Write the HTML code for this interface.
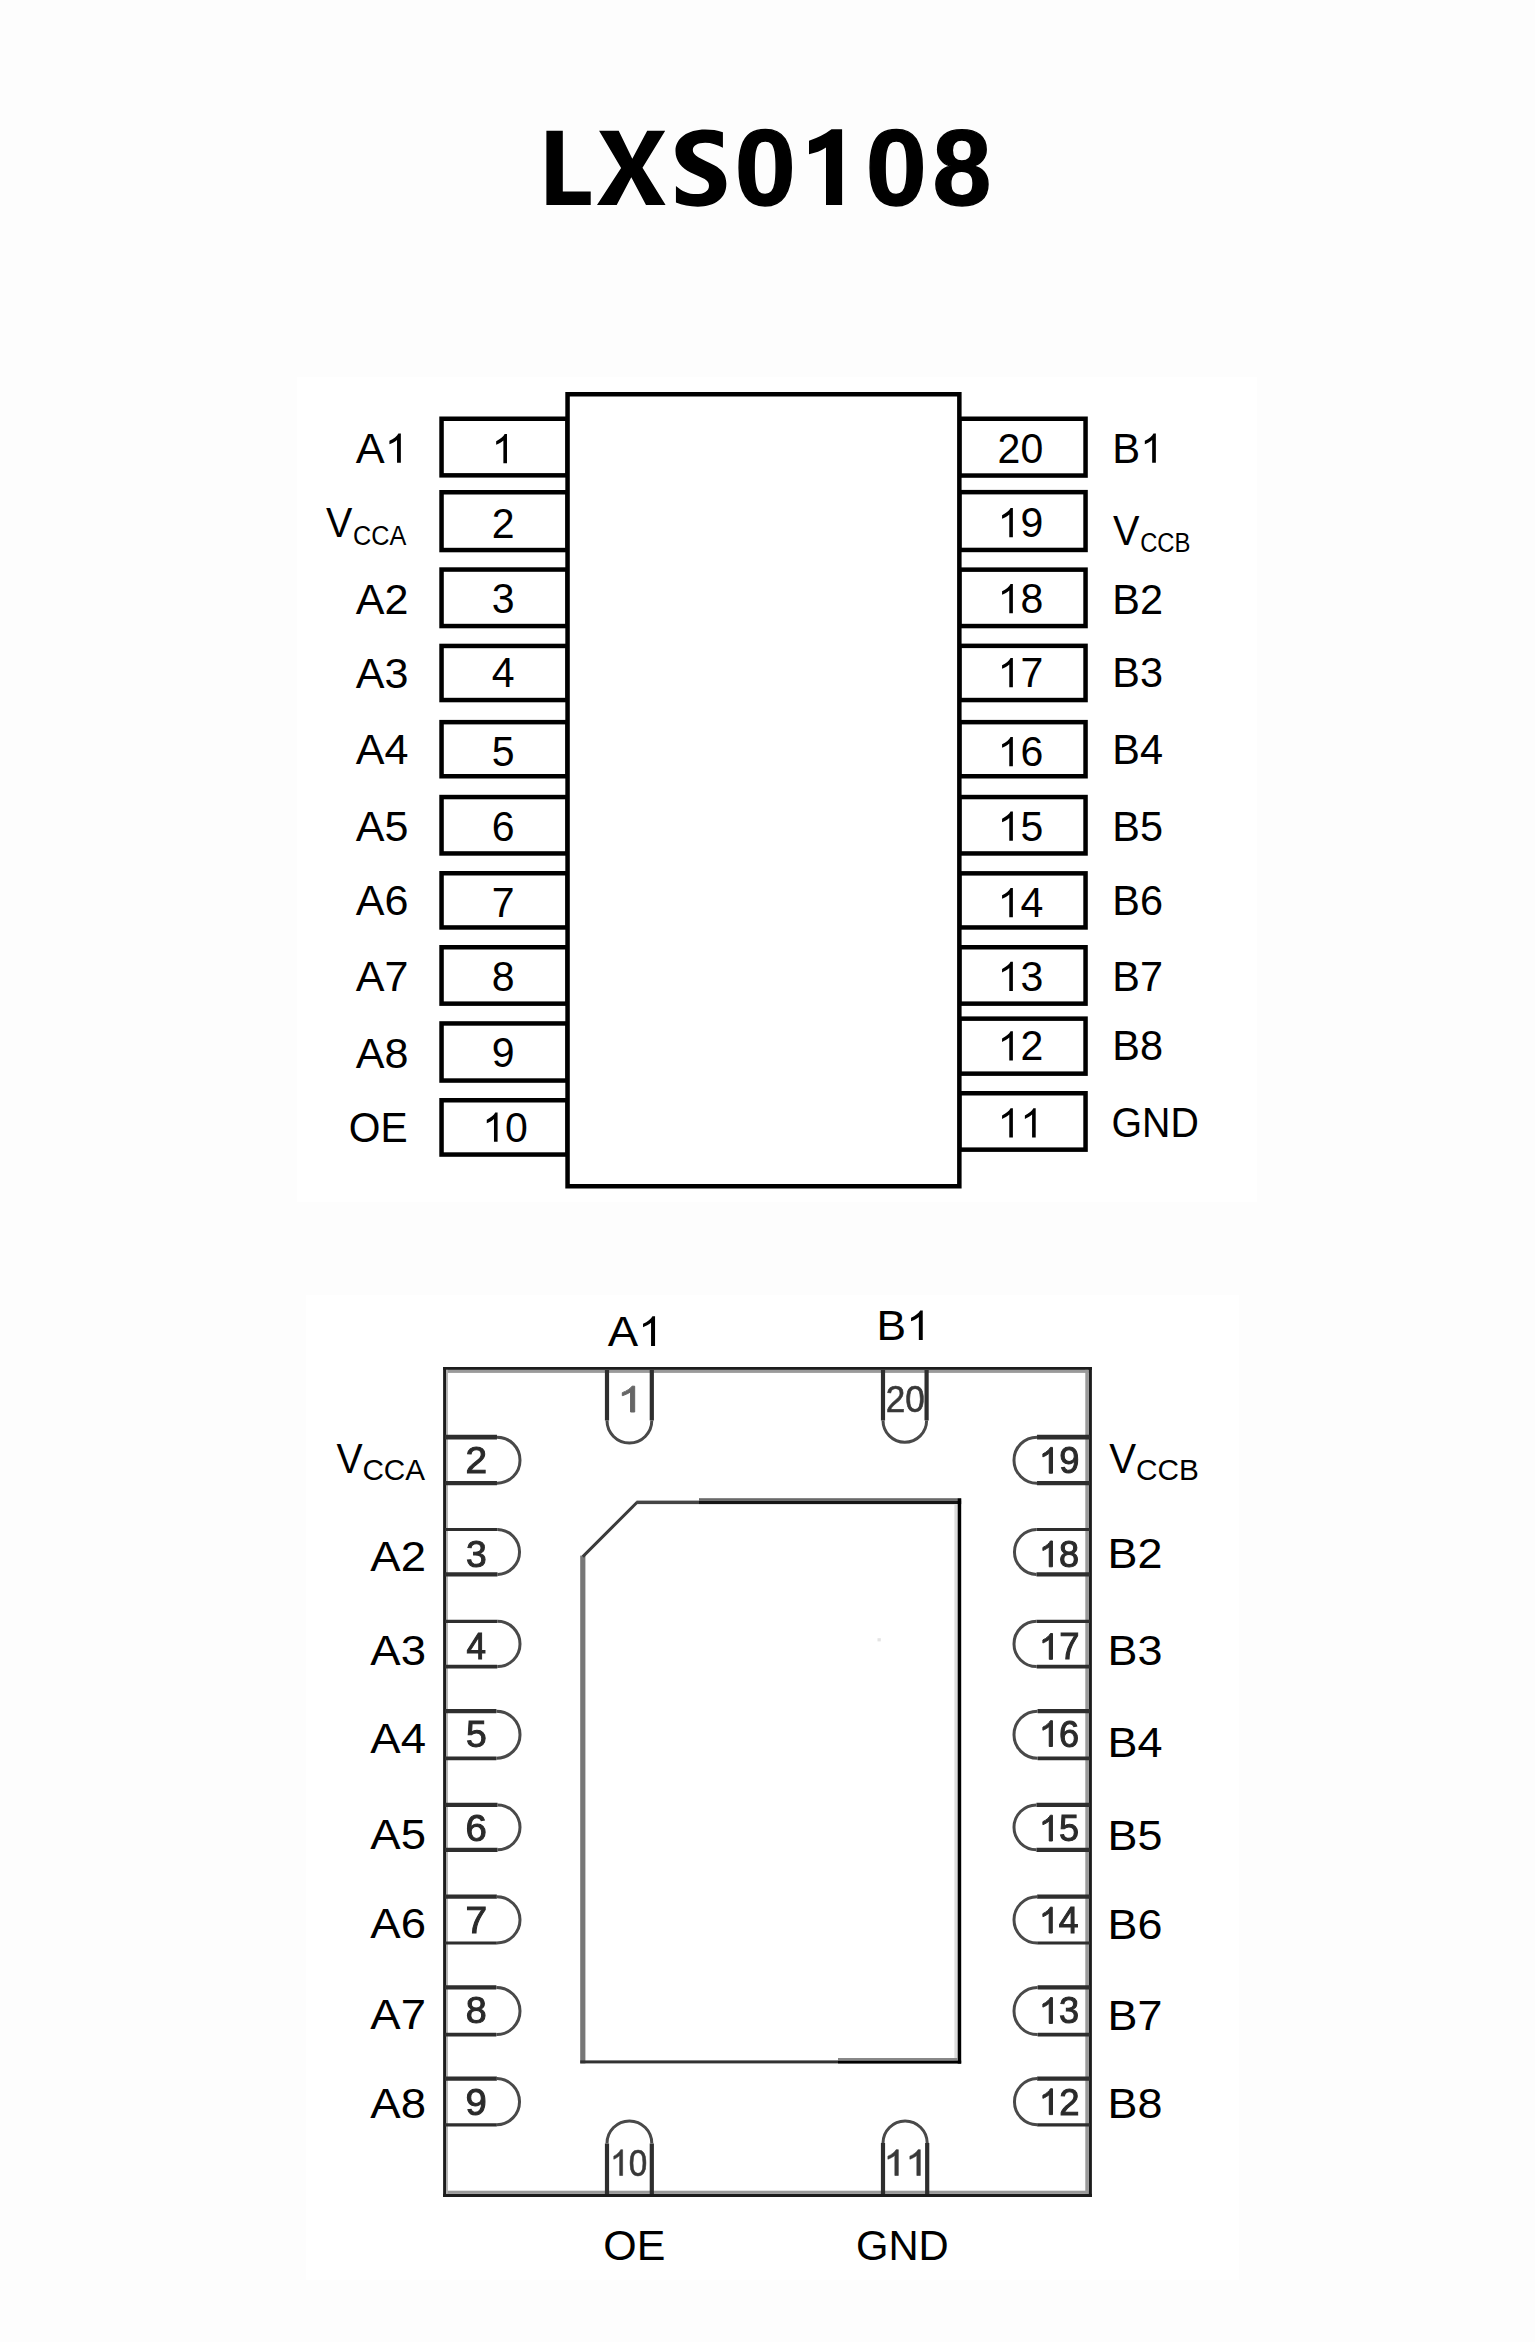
<!DOCTYPE html>
<html lang="en">
<head>
<meta charset="utf-8">
<title>LXS0108</title>
<style>
html,body{margin:0;padding:0;background:#fdfdfd;}
body{width:1535px;height:2342px;overflow:hidden;font-family:"Liberation Sans",sans-serif;}
svg{display:block;position:absolute;left:0;top:0;}
svg text{font-family:"Liberation Sans",sans-serif;white-space:pre;}
</style>
</head>
<body>
<svg width="1535" height="2342" viewBox="0 0 1535 2342">
<defs><filter id="soft" x="0" y="0" width="1535" height="2342" filterUnits="userSpaceOnUse"><feGaussianBlur stdDeviation="0.6"/></filter></defs>
<rect x="297" y="377" width="960" height="825" fill="#fff"/>
<rect x="306" y="1295" width="933" height="985" fill="#fff"/>
<path d="M546.4 130.8H562.8V191.6H590.7V205.1H546.4Z" fill="#000"/>
<path d="M599.1 130.8L618.7 130.8L632.3 158.7L647.2 130.8L665.2 130.8L642.5 167.8L665.6 205.1L646 205.1L631.3 177.2L616.7 205.1L597 205.1L621.1 168.1Z" fill="#000"/>
<path d="M722.91 132.31 C717.44 130.26 711.51 129.58 705.13 129.58 C687.80 129.58 675.49 138.24 675.49 151.01 C675.49 161.04 681.87 168.34 690.54 172.44 C696.92 175.40 701.48 177.00 704.67 179.05 C707.64 180.88 709.00 182.93 709.00 185.66 C709.00 191.14 703.76 194.10 696.01 194.10 C688.71 194.10 681.87 191.14 675.94 185.89 L675.94 202.54 C682.33 205.27 689.62 206.64 697.83 206.64 C715.16 206.64 726.33 198.43 726.33 183.84 C726.33 174.72 722.00 169.25 714.25 165.14 C708.32 161.95 702.39 159.67 698.29 157.16 C694.64 154.88 692.82 152.83 692.82 150.10 C692.82 145.54 697.83 142.80 705.13 142.80 C711.51 142.80 717.44 144.85 722.91 147.82 Z" fill="#000"/>
<path d="M831.5 129.3H842.1V205.1H826V147.6Q818.5 152.6 809 154.2V140.7Q822 136.5 831.5 129.3Z" fill="#000"/>
<g font-weight="bold" stroke="#000" stroke-width="1.4" stroke-linejoin="round">
<text transform="translate(734.86,205.40) scale(1.0163,1)" font-size="108.0" fill="#000">0</text>
<text transform="translate(865.86,205.40) scale(1.0163,1)" font-size="108.0" fill="#000">0</text>
<text transform="translate(932.54,205.40) scale(0.9791,1)" font-size="108.0" fill="#000">8</text>
</g>
<g fill="none" stroke="#000" stroke-width="4.5">
<rect x="441.55" y="418.75" width="126.00" height="56.60"/>
<rect x="441.55" y="492.25" width="126.00" height="57.80"/>
<rect x="441.55" y="569.55" width="126.00" height="56.50"/>
<rect x="441.55" y="645.95" width="126.00" height="54.10"/>
<rect x="441.55" y="722.15" width="126.00" height="54.10"/>
<rect x="441.55" y="797.05" width="126.00" height="56.40"/>
<rect x="441.55" y="873.25" width="126.00" height="54.20"/>
<rect x="441.55" y="947.25" width="126.00" height="56.40"/>
<rect x="441.55" y="1023.45" width="126.00" height="57.10"/>
<rect x="441.55" y="1100.25" width="126.00" height="54.30"/>
<rect x="959.35" y="418.75" width="126.20" height="56.80"/>
<rect x="959.35" y="492.15" width="126.20" height="57.80"/>
<rect x="959.35" y="569.65" width="126.20" height="56.40"/>
<rect x="959.35" y="645.85" width="126.20" height="54.20"/>
<rect x="959.35" y="722.15" width="126.20" height="54.10"/>
<rect x="959.35" y="797.05" width="126.20" height="56.40"/>
<rect x="959.35" y="873.35" width="126.20" height="54.10"/>
<rect x="959.35" y="947.25" width="126.20" height="56.40"/>
<rect x="959.35" y="1018.65" width="126.20" height="55.00"/>
<rect x="959.35" y="1093.25" width="126.20" height="56.40"/>
<rect x="567.55" y="394.25" width="391.8" height="792" fill="#fff"/>
</g>
<path d="M763 0H583V1147Q518 1085 412.5 1023Q307 961 223 930V1104Q374 1175 487 1276Q600 1377 647 1472H763Z" transform="translate(491.70,463.20) scale(0.02003,-0.01986)" fill="#000" />
<text transform="translate(491.70,537.50) scale(0.9650,1)" font-size="42.50" fill="#000" >2</text>
<text transform="translate(491.70,613.30) scale(0.9650,1)" font-size="42.50" fill="#000" >3</text>
<text transform="translate(491.70,687.30) scale(0.9650,1)" font-size="42.50" fill="#000" >4</text>
<text transform="translate(491.70,766.10) scale(0.9650,1)" font-size="42.50" fill="#000" >5</text>
<text transform="translate(491.70,840.70) scale(0.9650,1)" font-size="42.50" fill="#000" >6</text>
<text transform="translate(491.70,917.30) scale(0.9650,1)" font-size="42.50" fill="#000" >7</text>
<text transform="translate(491.70,990.90) scale(0.9650,1)" font-size="42.50" fill="#000" >8</text>
<text transform="translate(491.70,1066.80) scale(0.9650,1)" font-size="42.50" fill="#000" >9</text>
<path d="M763 0H583V1147Q518 1085 412.5 1023Q307 961 223 930V1104Q374 1175 487 1276Q600 1377 647 1472H763Z" transform="translate(482.30,1141.70) scale(0.02003,-0.01986)" fill="#000" />
<text transform="translate(505.11,1141.70) scale(0.9650,1)" font-size="42.50" fill="#000" >0</text>
<text transform="translate(997.60,463.00) scale(0.9650,1)" font-size="42.50" fill="#000" >20</text>
<path d="M763 0H583V1147Q518 1085 412.5 1023Q307 961 223 930V1104Q374 1175 487 1276Q600 1377 647 1472H763Z" transform="translate(997.60,537.20) scale(0.02003,-0.01986)" fill="#000" />
<text transform="translate(1020.41,537.20) scale(0.9650,1)" font-size="42.50" fill="#000" >9</text>
<path d="M763 0H583V1147Q518 1085 412.5 1023Q307 961 223 930V1104Q374 1175 487 1276Q600 1377 647 1472H763Z" transform="translate(997.60,613.30) scale(0.02003,-0.01986)" fill="#000" />
<text transform="translate(1020.41,613.30) scale(0.9650,1)" font-size="42.50" fill="#000" >8</text>
<path d="M763 0H583V1147Q518 1085 412.5 1023Q307 961 223 930V1104Q374 1175 487 1276Q600 1377 647 1472H763Z" transform="translate(997.60,687.30) scale(0.02003,-0.01986)" fill="#000" />
<text transform="translate(1020.41,687.30) scale(0.9650,1)" font-size="42.50" fill="#000" >7</text>
<path d="M763 0H583V1147Q518 1085 412.5 1023Q307 961 223 930V1104Q374 1175 487 1276Q600 1377 647 1472H763Z" transform="translate(997.60,766.30) scale(0.02003,-0.01986)" fill="#000" />
<text transform="translate(1020.41,766.30) scale(0.9650,1)" font-size="42.50" fill="#000" >6</text>
<path d="M763 0H583V1147Q518 1085 412.5 1023Q307 961 223 930V1104Q374 1175 487 1276Q600 1377 647 1472H763Z" transform="translate(997.60,840.70) scale(0.02003,-0.01986)" fill="#000" />
<text transform="translate(1020.41,840.70) scale(0.9650,1)" font-size="42.50" fill="#000" >5</text>
<path d="M763 0H583V1147Q518 1085 412.5 1023Q307 961 223 930V1104Q374 1175 487 1276Q600 1377 647 1472H763Z" transform="translate(997.60,917.30) scale(0.02003,-0.01986)" fill="#000" />
<text transform="translate(1020.41,917.30) scale(0.9650,1)" font-size="42.50" fill="#000" >4</text>
<path d="M763 0H583V1147Q518 1085 412.5 1023Q307 961 223 930V1104Q374 1175 487 1276Q600 1377 647 1472H763Z" transform="translate(997.60,990.90) scale(0.02003,-0.01986)" fill="#000" />
<text transform="translate(1020.41,990.90) scale(0.9650,1)" font-size="42.50" fill="#000" >3</text>
<path d="M763 0H583V1147Q518 1085 412.5 1023Q307 961 223 930V1104Q374 1175 487 1276Q600 1377 647 1472H763Z" transform="translate(997.60,1060.40) scale(0.02003,-0.01986)" fill="#000" />
<text transform="translate(1020.41,1060.40) scale(0.9650,1)" font-size="42.50" fill="#000" >2</text>
<path d="M763 0H583V1147Q518 1085 412.5 1023Q307 961 223 930V1104Q374 1175 487 1276Q600 1377 647 1472H763Z" transform="translate(997.60,1137.40) scale(0.02003,-0.01986)" fill="#000" />
<path d="M763 0H583V1147Q518 1085 412.5 1023Q307 961 223 930V1104Q374 1175 487 1276Q600 1377 647 1472H763Z" transform="translate(1020.41,1137.40) scale(0.02003,-0.01986)" fill="#000" />
<text transform="translate(355.77,462.80) scale(1.0205,1)" font-size="42.50" fill="#000" >A</text>
<path d="M763 0H583V1147Q518 1085 412.5 1023Q307 961 223 930V1104Q374 1175 487 1276Q600 1377 647 1472H763Z" transform="translate(384.69,462.80) scale(0.02118,-0.01986)" fill="#000" />
<text transform="translate(325.98,537.40) scale(0.9294,1)" font-size="42.50" fill="#000" >V</text>
<text transform="translate(352.97,544.80) scale(0.9021,1)" font-size="28.00" fill="#000" >CCA</text>
<text transform="translate(355.67,613.70) scale(1.0148,1)" font-size="42.50" fill="#000" >A2</text>
<text transform="translate(355.67,687.60) scale(1.0148,1)" font-size="42.50" fill="#000" >A3</text>
<text transform="translate(355.67,763.80) scale(1.0148,1)" font-size="42.50" fill="#000" >A4</text>
<text transform="translate(355.67,840.80) scale(1.0148,1)" font-size="42.50" fill="#000" >A5</text>
<text transform="translate(355.67,914.50) scale(1.0148,1)" font-size="42.50" fill="#000" >A6</text>
<text transform="translate(355.67,991.40) scale(1.0148,1)" font-size="42.50" fill="#000" >A7</text>
<text transform="translate(355.67,1067.60) scale(1.0148,1)" font-size="42.50" fill="#000" >A8</text>
<text transform="translate(348.82,1141.90) scale(0.9589,1)" font-size="42.50" fill="#000" >OE</text>
<text transform="translate(1112.31,462.80) scale(0.9854,1)" font-size="42.50" fill="#000" >B</text>
<path d="M763 0H583V1147Q518 1085 412.5 1023Q307 961 223 930V1104Q374 1175 487 1276Q600 1377 647 1472H763Z" transform="translate(1140.25,462.80) scale(0.02045,-0.01986)" fill="#000" />
<text transform="translate(1112.98,544.80) scale(0.9330,1)" font-size="42.50" fill="#000" >V</text>
<text transform="translate(1140.14,552.30) scale(0.8520,1)" font-size="28.00" fill="#000" >CCB</text>
<text transform="translate(1112.35,613.70) scale(0.9750,1)" font-size="42.50" fill="#000" >B2</text>
<text transform="translate(1112.35,687.30) scale(0.9750,1)" font-size="42.50" fill="#000" >B3</text>
<text transform="translate(1112.35,763.80) scale(0.9750,1)" font-size="42.50" fill="#000" >B4</text>
<text transform="translate(1112.35,840.80) scale(0.9750,1)" font-size="42.50" fill="#000" >B5</text>
<text transform="translate(1112.35,914.50) scale(0.9750,1)" font-size="42.50" fill="#000" >B6</text>
<text transform="translate(1112.35,991.40) scale(0.9750,1)" font-size="42.50" fill="#000" >B7</text>
<text transform="translate(1112.35,1059.80) scale(0.9750,1)" font-size="42.50" fill="#000" >B8</text>
<text transform="translate(1111.58,1136.90) scale(0.9239,1)" font-size="42.50" fill="#000" >GND</text>
<g filter="url(#soft)">
<rect x="443.10" y="1367.00" width="648.80" height="2.90" fill="#1c1c1c"/>
<rect x="446.00" y="1369.90" width="642.60" height="3.00" fill="#9a9a9a"/>
<rect x="443.10" y="2193.80" width="648.80" height="3.20" fill="#1c1c1c"/>
<rect x="446.00" y="2190.70" width="642.60" height="3.10" fill="#9a9a9a"/>
<rect x="443.10" y="1367.00" width="2.90" height="830.00" fill="#1c1c1c"/>
<rect x="446.00" y="1369.90" width="1.90" height="823.90" fill="#b0b0b0"/>
<rect x="1088.60" y="1367.00" width="3.30" height="830.00" fill="#1c1c1c"/>
<rect x="1085.30" y="1369.90" width="3.30" height="823.90" fill="#9a9a9a"/>
<path d="M445 1437.15H496.98" stroke="#2e2e2e" stroke-width="4.88" fill="none"/>
<path d="M445 1483.20H496.98" stroke="#2e2e2e" stroke-width="4.16" fill="none"/>
<path d="M496.98 1437.15A23.02 23.02 0 0 1 496.98 1483.20" stroke="#484848" stroke-width="3" fill="none"/>
<path d="M1090 1437.15H1037.02" stroke="#2e2e2e" stroke-width="4.88" fill="none"/>
<path d="M1090 1483.20H1037.02" stroke="#2e2e2e" stroke-width="4.16" fill="none"/>
<path d="M1037.02 1437.15A23.02 23.02 0 0 0 1037.02 1483.20" stroke="#484848" stroke-width="3" fill="none"/>
<path d="M445 1529.45H497.52" stroke="#2e2e2e" stroke-width="3.12" fill="none"/>
<path d="M445 1574.40H497.52" stroke="#2e2e2e" stroke-width="4.16" fill="none"/>
<path d="M497.52 1529.45A22.48 22.48 0 0 1 497.52 1574.40" stroke="#484848" stroke-width="3" fill="none"/>
<path d="M1090 1529.45H1036.47" stroke="#2e2e2e" stroke-width="3.12" fill="none"/>
<path d="M1090 1574.40H1036.47" stroke="#2e2e2e" stroke-width="4.16" fill="none"/>
<path d="M1036.47 1529.45A22.48 22.48 0 0 0 1036.47 1574.40" stroke="#484848" stroke-width="3" fill="none"/>
<path d="M445 1621.30H497.35" stroke="#2e2e2e" stroke-width="3.20" fill="none"/>
<path d="M445 1666.60H497.35" stroke="#2e2e2e" stroke-width="3.68" fill="none"/>
<path d="M497.35 1621.30A22.65 22.65 0 0 1 497.35 1666.60" stroke="#484848" stroke-width="3" fill="none"/>
<path d="M1090 1621.30H1036.65" stroke="#2e2e2e" stroke-width="3.20" fill="none"/>
<path d="M1090 1666.60H1036.65" stroke="#2e2e2e" stroke-width="3.68" fill="none"/>
<path d="M1036.65 1621.30A22.65 22.65 0 0 0 1036.65 1666.60" stroke="#484848" stroke-width="3" fill="none"/>
<path d="M445 1711.15H496.43" stroke="#2e2e2e" stroke-width="4.24" fill="none"/>
<path d="M445 1758.30H496.43" stroke="#2e2e2e" stroke-width="3.68" fill="none"/>
<path d="M496.43 1711.15A23.57 23.57 0 0 1 496.43 1758.30" stroke="#484848" stroke-width="3" fill="none"/>
<path d="M1090 1711.15H1037.57" stroke="#2e2e2e" stroke-width="4.24" fill="none"/>
<path d="M1090 1758.30H1037.57" stroke="#2e2e2e" stroke-width="3.68" fill="none"/>
<path d="M1037.57 1711.15A23.57 23.57 0 0 0 1037.57 1758.30" stroke="#484848" stroke-width="3" fill="none"/>
<path d="M445 1804.90H497.55" stroke="#2e2e2e" stroke-width="4.16" fill="none"/>
<path d="M445 1849.80H497.55" stroke="#2e2e2e" stroke-width="4.16" fill="none"/>
<path d="M497.55 1804.90A22.45 22.45 0 0 1 497.55 1849.80" stroke="#484848" stroke-width="3" fill="none"/>
<path d="M1090 1804.90H1036.45" stroke="#2e2e2e" stroke-width="4.16" fill="none"/>
<path d="M1090 1849.80H1036.45" stroke="#2e2e2e" stroke-width="4.16" fill="none"/>
<path d="M1036.45 1804.90A22.45 22.45 0 0 0 1036.45 1849.80" stroke="#484848" stroke-width="3" fill="none"/>
<path d="M445 1896.70H496.85" stroke="#2e2e2e" stroke-width="4.16" fill="none"/>
<path d="M445 1943.00H496.85" stroke="#2e2e2e" stroke-width="3.20" fill="none"/>
<path d="M496.85 1896.70A23.15 23.15 0 0 1 496.85 1943.00" stroke="#484848" stroke-width="3" fill="none"/>
<path d="M1090 1896.70H1037.15" stroke="#2e2e2e" stroke-width="4.16" fill="none"/>
<path d="M1090 1943.00H1037.15" stroke="#2e2e2e" stroke-width="3.20" fill="none"/>
<path d="M1037.15 1896.70A23.15 23.15 0 0 0 1037.15 1943.00" stroke="#484848" stroke-width="3" fill="none"/>
<path d="M445 1987.40H496.40" stroke="#2e2e2e" stroke-width="4.16" fill="none"/>
<path d="M445 2034.60H496.40" stroke="#2e2e2e" stroke-width="3.68" fill="none"/>
<path d="M496.40 1987.40A23.60 23.60 0 0 1 496.40 2034.60" stroke="#484848" stroke-width="3" fill="none"/>
<path d="M1090 1987.40H1037.60" stroke="#2e2e2e" stroke-width="4.16" fill="none"/>
<path d="M1090 2034.60H1037.60" stroke="#2e2e2e" stroke-width="3.68" fill="none"/>
<path d="M1037.60 1987.40A23.60 23.60 0 0 0 1037.60 2034.60" stroke="#484848" stroke-width="3" fill="none"/>
<path d="M445 2078.60H496.87" stroke="#2e2e2e" stroke-width="4.16" fill="none"/>
<path d="M445 2124.85H496.87" stroke="#2e2e2e" stroke-width="3.12" fill="none"/>
<path d="M496.87 2078.60A23.13 23.13 0 0 1 496.87 2124.85" stroke="#484848" stroke-width="3" fill="none"/>
<path d="M1090 2078.60H1037.13" stroke="#2e2e2e" stroke-width="4.16" fill="none"/>
<path d="M1090 2124.85H1037.13" stroke="#2e2e2e" stroke-width="3.12" fill="none"/>
<path d="M1037.13 2078.60A23.13 23.13 0 0 0 1037.13 2124.85" stroke="#484848" stroke-width="3" fill="none"/>
<path d="M607.00 1370V1420.60M651.80 1370V1420.60" stroke="#2e2e2e" stroke-width="4.2" fill="none"/>
<path d="M607.00 1420.60A22.40 22.40 0 0 0 651.80 1420.60" stroke="#484848" stroke-width="3" fill="none"/>
<path d="M883.00 1370V1420.40M926.60 1370V1420.40" stroke="#2e2e2e" stroke-width="4.2" fill="none"/>
<path d="M883.00 1420.40A21.80 21.80 0 0 0 926.60 1420.40" stroke="#484848" stroke-width="3" fill="none"/>
<path d="M607.00 2194V2143.40M651.80 2194V2143.40" stroke="#2e2e2e" stroke-width="4.2" fill="none"/>
<path d="M607.00 2143.40A22.40 22.40 0 0 1 651.80 2143.40" stroke="#484848" stroke-width="3" fill="none"/>
<path d="M883.00 2194V2143.10M927.20 2194V2143.10" stroke="#2e2e2e" stroke-width="4.2" fill="none"/>
<path d="M883.00 2143.10A22.10 22.10 0 0 1 927.20 2143.10" stroke="#484848" stroke-width="3" fill="none"/>
<rect x="580.20" y="1555.60" width="5.20" height="507.80" fill="#777"/>
<path d="M582.8 1556.6L637.4 1502" stroke="#3a3a3a" stroke-width="3.0" fill="none"/>
<rect x="636.50" y="1500.60" width="62.50" height="3.50" fill="#444"/>
<rect x="699.00" y="1498.20" width="262.20" height="2.60" fill="#6a6a6a"/>
<rect x="699.00" y="1500.80" width="262.20" height="3.30" fill="#161616"/>
<rect x="954.40" y="1504.00" width="3.30" height="556.60" fill="#dcdcdc"/>
<rect x="957.70" y="1498.40" width="3.50" height="565.20" fill="#000"/>
<rect x="580.20" y="2060.40" width="257.80" height="3.00" fill="#333"/>
<rect x="838.00" y="2058.00" width="119.70" height="2.60" fill="#888"/>
<rect x="838.00" y="2060.60" width="123.20" height="3.00" fill="#000"/>
<rect x="877.50" y="1638.20" width="3.30" height="3.20" fill="#e4e4e4"/>
<text transform="translate(465.45,1473.20) scale(1.0361,1)" font-size="37.50" fill="#2a2a2a" stroke="#2a2a2a" stroke-width="1.0">2</text>
<text transform="translate(465.98,1566.80) scale(0.9955,1)" font-size="37.50" fill="#2a2a2a" stroke="#2a2a2a" stroke-width="1.0">3</text>
<text transform="translate(466.59,1659.30) scale(0.9367,1)" font-size="37.50" fill="#2a2a2a" stroke="#2a2a2a" stroke-width="1.0">4</text>
<text transform="translate(465.91,1746.50) scale(0.9955,1)" font-size="37.50" fill="#2a2a2a" stroke="#2a2a2a" stroke-width="1.0">5</text>
<text transform="translate(465.45,1841.00) scale(1.0229,1)" font-size="37.50" fill="#2a2a2a" stroke="#2a2a2a" stroke-width="1.0">6</text>
<text transform="translate(465.40,1933.00) scale(1.0383,1)" font-size="37.50" fill="#2a2a2a" stroke="#2a2a2a" stroke-width="1.0">7</text>
<text transform="translate(465.76,2023.40) scale(1.0059,1)" font-size="37.50" fill="#2a2a2a" stroke="#2a2a2a" stroke-width="1.0">8</text>
<text transform="translate(465.60,2114.60) scale(1.0218,1)" font-size="37.50" fill="#2a2a2a" stroke="#2a2a2a" stroke-width="1.0">9</text>
<path d="M763 0H583V1147Q518 1085 412.5 1023Q307 961 223 930V1104Q374 1175 487 1276Q600 1377 647 1472H763Z" transform="translate(1038.95,1473.20) scale(0.01772,-0.01753)" fill="#2a2a2a" stroke="#2a2a2a" stroke-width="1.0" vector-effect="non-scaling-stroke"/>
<text transform="translate(1059.13,1473.20) scale(0.9678,1)" font-size="37.50" fill="#2a2a2a" stroke="#2a2a2a" stroke-width="1.0">9</text>
<path d="M763 0H583V1147Q518 1085 412.5 1023Q307 961 223 930V1104Q374 1175 487 1276Q600 1377 647 1472H763Z" transform="translate(1038.96,1566.80) scale(0.01765,-0.01753)" fill="#2a2a2a" stroke="#2a2a2a" stroke-width="1.0" vector-effect="non-scaling-stroke"/>
<text transform="translate(1059.07,1566.80) scale(0.9639,1)" font-size="37.50" fill="#2a2a2a" stroke="#2a2a2a" stroke-width="1.0">8</text>
<path d="M763 0H583V1147Q518 1085 412.5 1023Q307 961 223 930V1104Q374 1175 487 1276Q600 1377 647 1472H763Z" transform="translate(1038.94,1659.30) scale(0.01778,-0.01753)" fill="#2a2a2a" stroke="#2a2a2a" stroke-width="1.0" vector-effect="non-scaling-stroke"/>
<text transform="translate(1059.18,1659.30) scale(0.9708,1)" font-size="37.50" fill="#2a2a2a" stroke="#2a2a2a" stroke-width="1.0">7</text>
<path d="M763 0H583V1147Q518 1085 412.5 1023Q307 961 223 930V1104Q374 1175 487 1276Q600 1377 647 1472H763Z" transform="translate(1038.96,1746.50) scale(0.01766,-0.01753)" fill="#2a2a2a" stroke="#2a2a2a" stroke-width="1.0" vector-effect="non-scaling-stroke"/>
<text transform="translate(1059.08,1746.50) scale(0.9644,1)" font-size="37.50" fill="#2a2a2a" stroke="#2a2a2a" stroke-width="1.0">6</text>
<path d="M763 0H583V1147Q518 1085 412.5 1023Q307 961 223 930V1104Q374 1175 487 1276Q600 1377 647 1472H763Z" transform="translate(1038.97,1841.00) scale(0.01762,-0.01753)" fill="#2a2a2a" stroke="#2a2a2a" stroke-width="1.0" vector-effect="non-scaling-stroke"/>
<text transform="translate(1059.04,1841.00) scale(0.9624,1)" font-size="37.50" fill="#2a2a2a" stroke="#2a2a2a" stroke-width="1.0">5</text>
<path d="M763 0H583V1147Q518 1085 412.5 1023Q307 961 223 930V1104Q374 1175 487 1276Q600 1377 647 1472H763Z" transform="translate(1039.02,1933.00) scale(0.01739,-0.01753)" fill="#2a2a2a" stroke="#2a2a2a" stroke-width="1.0" vector-effect="non-scaling-stroke"/>
<text transform="translate(1058.83,1933.00) scale(0.9499,1)" font-size="37.50" fill="#2a2a2a" stroke="#2a2a2a" stroke-width="1.0">4</text>
<path d="M763 0H583V1147Q518 1085 412.5 1023Q307 961 223 930V1104Q374 1175 487 1276Q600 1377 647 1472H763Z" transform="translate(1038.96,2023.40) scale(0.01766,-0.01753)" fill="#2a2a2a" stroke="#2a2a2a" stroke-width="1.0" vector-effect="non-scaling-stroke"/>
<text transform="translate(1059.08,2023.40) scale(0.9644,1)" font-size="37.50" fill="#2a2a2a" stroke="#2a2a2a" stroke-width="1.0">3</text>
<path d="M763 0H583V1147Q518 1085 412.5 1023Q307 961 223 930V1104Q374 1175 487 1276Q600 1377 647 1472H763Z" transform="translate(1038.94,2114.60) scale(0.01778,-0.01753)" fill="#2a2a2a" stroke="#2a2a2a" stroke-width="1.0" vector-effect="non-scaling-stroke"/>
<text transform="translate(1059.18,2114.60) scale(0.9708,1)" font-size="37.50" fill="#2a2a2a" stroke="#2a2a2a" stroke-width="1.0">2</text>
<path d="M763 0H583V1147Q518 1085 412.5 1023Q307 961 223 930V1104Q374 1175 487 1276Q600 1377 647 1472H763Z" transform="translate(617.22,1412.00) scale(0.02289,-0.01753)" fill="#666" stroke="#666" stroke-width="1.0" vector-effect="non-scaling-stroke"/>
<text transform="translate(885.73,1411.80) scale(0.9359,1)" font-size="37.50" fill="#383838" stroke="#383838" stroke-width="0.6">20</text>
<path d="M763 0H583V1147Q518 1085 412.5 1023Q307 961 223 930V1104Q374 1175 487 1276Q600 1377 647 1472H763Z" transform="translate(610.18,2175.50) scale(0.01625,-0.01753)" fill="#383838" stroke="#383838" stroke-width="0.6" vector-effect="non-scaling-stroke"/>
<text transform="translate(628.69,2175.50) scale(0.8876,1)" font-size="37.50" fill="#383838" stroke="#383838" stroke-width="0.6">0</text>
<path d="M763 0H583V1147Q518 1085 412.5 1023Q307 961 223 930V1104Q374 1175 487 1276Q600 1377 647 1472H763Z" transform="translate(883.60,2175.50) scale(0.01930,-0.01753)" fill="#383838" stroke="#383838" stroke-width="0.6" vector-effect="non-scaling-stroke"/>
<path d="M763 0H583V1147Q518 1085 412.5 1023Q307 961 223 930V1104Q374 1175 487 1276Q600 1377 647 1472H763Z" transform="translate(905.58,2175.50) scale(0.01930,-0.01753)" fill="#383838" stroke="#383838" stroke-width="0.6" vector-effect="non-scaling-stroke"/>
</g>
<text transform="translate(607.66,1345.90) scale(1.0601,1)" font-size="43.00" fill="#000" >A</text>
<path d="M763 0H583V1147Q518 1085 412.5 1023Q307 961 223 930V1104Q374 1175 487 1276Q600 1377 647 1472H763Z" transform="translate(638.07,1345.90) scale(0.02226,-0.02010)" fill="#000" />
<text transform="translate(876.61,1340.00) scale(1.0322,1)" font-size="43.00" fill="#000" >B</text>
<path d="M763 0H583V1147Q518 1085 412.5 1023Q307 961 223 930V1104Q374 1175 487 1276Q600 1377 647 1472H763Z" transform="translate(906.21,1340.00) scale(0.02167,-0.02010)" fill="#000" />
<text transform="translate(336.48,1472.80) scale(0.9116,1)" font-size="43.00" fill="#000" >V</text>
<text transform="translate(362.44,1479.60) scale(1.0235,1)" font-size="29.00" fill="#000" >CCA</text>
<text transform="translate(370.36,1570.50) scale(1.0586,1)" font-size="43.00" fill="#000" >A2</text>
<text transform="translate(370.36,1664.60) scale(1.0586,1)" font-size="43.00" fill="#000" >A3</text>
<text transform="translate(370.36,1752.80) scale(1.0586,1)" font-size="43.00" fill="#000" >A4</text>
<text transform="translate(370.36,1849.40) scale(1.0586,1)" font-size="43.00" fill="#000" >A5</text>
<text transform="translate(370.36,1938.00) scale(1.0586,1)" font-size="43.00" fill="#000" >A6</text>
<text transform="translate(370.36,2029.40) scale(1.0586,1)" font-size="43.00" fill="#000" >A7</text>
<text transform="translate(370.36,2117.50) scale(1.0586,1)" font-size="43.00" fill="#000" >A8</text>
<text transform="translate(1109.37,1472.80) scale(0.9363,1)" font-size="43.00" fill="#000" >V</text>
<text transform="translate(1136.04,1479.70) scale(1.0253,1)" font-size="29.00" fill="#000" >CCB</text>
<text transform="translate(1107.47,1567.90) scale(1.0447,1)" font-size="43.00" fill="#000" >B2</text>
<text transform="translate(1107.47,1664.60) scale(1.0447,1)" font-size="43.00" fill="#000" >B3</text>
<text transform="translate(1107.47,1756.70) scale(1.0447,1)" font-size="43.00" fill="#000" >B4</text>
<text transform="translate(1107.47,1850.10) scale(1.0447,1)" font-size="43.00" fill="#000" >B5</text>
<text transform="translate(1107.47,1938.60) scale(1.0447,1)" font-size="43.00" fill="#000" >B6</text>
<text transform="translate(1107.47,2029.70) scale(1.0447,1)" font-size="43.00" fill="#000" >B7</text>
<text transform="translate(1107.47,2117.50) scale(1.0447,1)" font-size="43.00" fill="#000" >B8</text>
<text transform="translate(603.36,2260.30) scale(0.9993,1)" font-size="43.00" fill="#000" >OE</text>
<text transform="translate(855.90,2260.30) scale(0.9712,1)" font-size="43.00" fill="#000" >GND</text>
</svg>
</body>
</html>
